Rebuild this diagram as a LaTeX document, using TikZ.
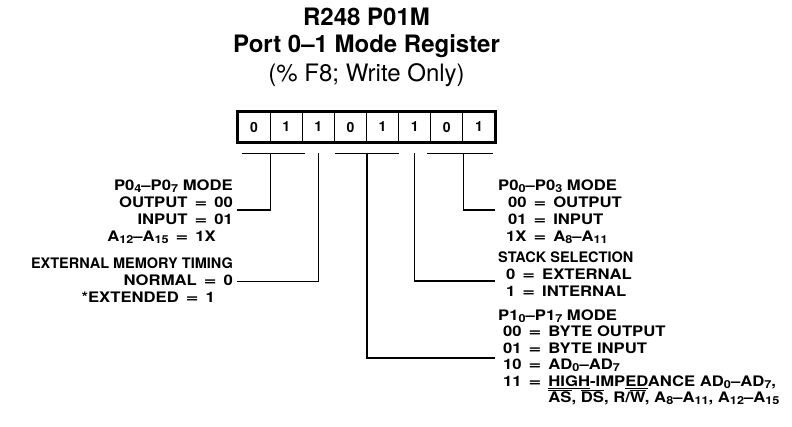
\documentclass[tikz,border=0pt]{standalone}
\usepackage{fontspec}
\setmainfont{TeX Gyre Heros}
\newfontfamily\widefont[Ligatures=TeX,FakeStretch=1.15]{TeX Gyre Heros}
\usepackage{tikz}
\newcommand{\lo}[1]{\raisebox{-2.2pt}{\fontsize{11}{11}\selectfont #1}}
\newcommand{\eqs}{\hspace{7pt}\scalebox{1.3}[1]{=}\hspace{7pt}}
\newcommand{\eqg}{\hspace{7pt}\phantom{\scalebox{1.3}[1]{=}}\hspace{7pt}}
\newcommand{\hd}[1]{{\rmfamily #1}}
\newlength{\barw}
\newcommand{\nbar}[1]{\settowidth{\barw}{#1}\rlap{\smash{\rule[0.78em]{\barw}{1pt}}}#1}
\newcommand{\ulin}[1]{\settowidth{\barw}{#1}\rlap{\smash{\rule[-2.6pt]{\barw}{1pt}}}#1}

\begin{document}
\begin{tikzpicture}[x=1pt,y=-1pt,
    cell/.style={draw,line width=0.8pt,minimum width=32.125pt,minimum height=30pt,inner sep=0pt,
      font=\fontsize{14}{14}\selectfont\bfseries},
    lead/.style={line width=1.5pt},
    field/.style={inner sep=0pt,font=\fontsize{14.5}{17}\selectfont\widefont\bfseries},
    heading/.style={inner sep=0pt,anchor=base,font=\fontsize{24}{24}\selectfont\bfseries}]
    \useasboundingbox (0,0) rectangle (792,426);
    \node[heading] (t1) at (366.5,25) {R248 P01M};
    \node[heading] (t2) at (366.5,52) {Port 0--1 Mode Register};
    \node[heading,font=\fontsize{24}{24}\selectfont] (t3) at (366.5,81) {(\%\ F8; Write Only)};
    \foreach \v [count=\i from 0] in {0,1,1,0,1,1,0,1} {
      \pgfmathtruncatemacro\n{7-\i}
      \node[cell] (b\n) at (254.06+32.125*\i,127) {\v};
    }
    \draw[line width=2.4pt] (b7.north west) rectangle (b0.south east);
    \node[field,anchor=north east] (m47) at (233,178) {\begin{tabular}{@{}r@{}}
      P0\lo{4}--P0\lo{7} MODE\\
      OUTPUT\eqs 00\hspace{17pt}\\
      INPUT\eqs 01\hspace{17pt}\\
      A\lo{12}--A\lo{15}\eqs 1X\hspace{17pt}
    \end{tabular}};
    \node[field,anchor=north east] (emt) at (233,256) {\begin{tabular}{@{}r@{}}
      \hd{EXTERNAL MEMORY TIMING}\\
      NORMAL\eqs 0\hspace{18pt}\\
      {*}EXTENDED\eqs 1\hspace{18pt}
    \end{tabular}};
    \node[field,anchor=north west] (m03) at (498,178) {\begin{tabular}{@{\hspace{8pt}}r@{\eqs}l@{}}
      \multicolumn{2}{@{}l@{}}{P0\lo{0}--P0\lo{3} MODE}\\
      00 & OUTPUT\\
      01 & INPUT\\
      1X & A\lo{8}--A\lo{11}
    \end{tabular}};
    \node[field,anchor=north west] (stk) at (498,250) {\begin{tabular}{@{\hspace{8pt}}r@{\eqs}l@{}}
      \multicolumn{2}{@{}l@{}}{\hd{STACK SELECTION}}\\
      0 & EXTERNAL\\
      1 & INTERNAL
    \end{tabular}};
    \node[field,font=\fontsize{14.5}{16.5}\selectfont\widefont\bfseries,anchor=north west] (m17) at (498,308.5) {\begin{tabular}{@{\hspace{5pt}}r@{\eqs}l@{}}
      \multicolumn{2}{@{}l@{}}{P1\lo{0}--P1\lo{7} MODE}\\
      00 & BYTE OUTPUT\\
      01 & BYTE INPUT\\
      10 & AD\lo{0}--AD\lo{7}\\
      11 & \ulin{HIGH}-IMP\ulin{ED}ANCE AD\lo{0}--AD\lo{7},\\
      \multicolumn{1}{@{\hspace{5pt}}r@{\eqg}}{} & \nbar{AS}, \nbar{DS}, R/\nbar{W}, A\lo{8}--A\lo{11}, A\lo{12}--A\lo{15}
    \end{tabular}};
    \draw[lead] ([xshift=4pt,yshift=-11pt]b7.south west) -- ([xshift=2pt,yshift=-11pt]b6.south east);
    \draw[lead] ([yshift=-11pt]b7.south east) |- ([xshift=4pt,yshift=2pt]m47.east);
    \draw[lead] ([yshift=-11pt]b5.south) |- ([xshift=4pt]emt.east);
    \draw[lead] ([xshift=1pt,yshift=-11pt]b4.south west) -- ([yshift=-11pt]b3.south east);
    \draw[lead] ([yshift=-11pt]b4.south east) |- ([xshift=-3pt]m17.west);
    \draw[lead] ([yshift=-11pt]b2.south) |- ([xshift=-3pt,yshift=-5.5pt]stk.west);
    \draw[lead] ([xshift=-3pt,yshift=-11pt]b1.south west) -- ([xshift=-2pt,yshift=-11pt]b0.south east);
    \draw[lead] ([yshift=-11pt]b1.south east) |- ([xshift=-3pt,yshift=2pt]m03.west);
\end{tikzpicture}
\end{document}
